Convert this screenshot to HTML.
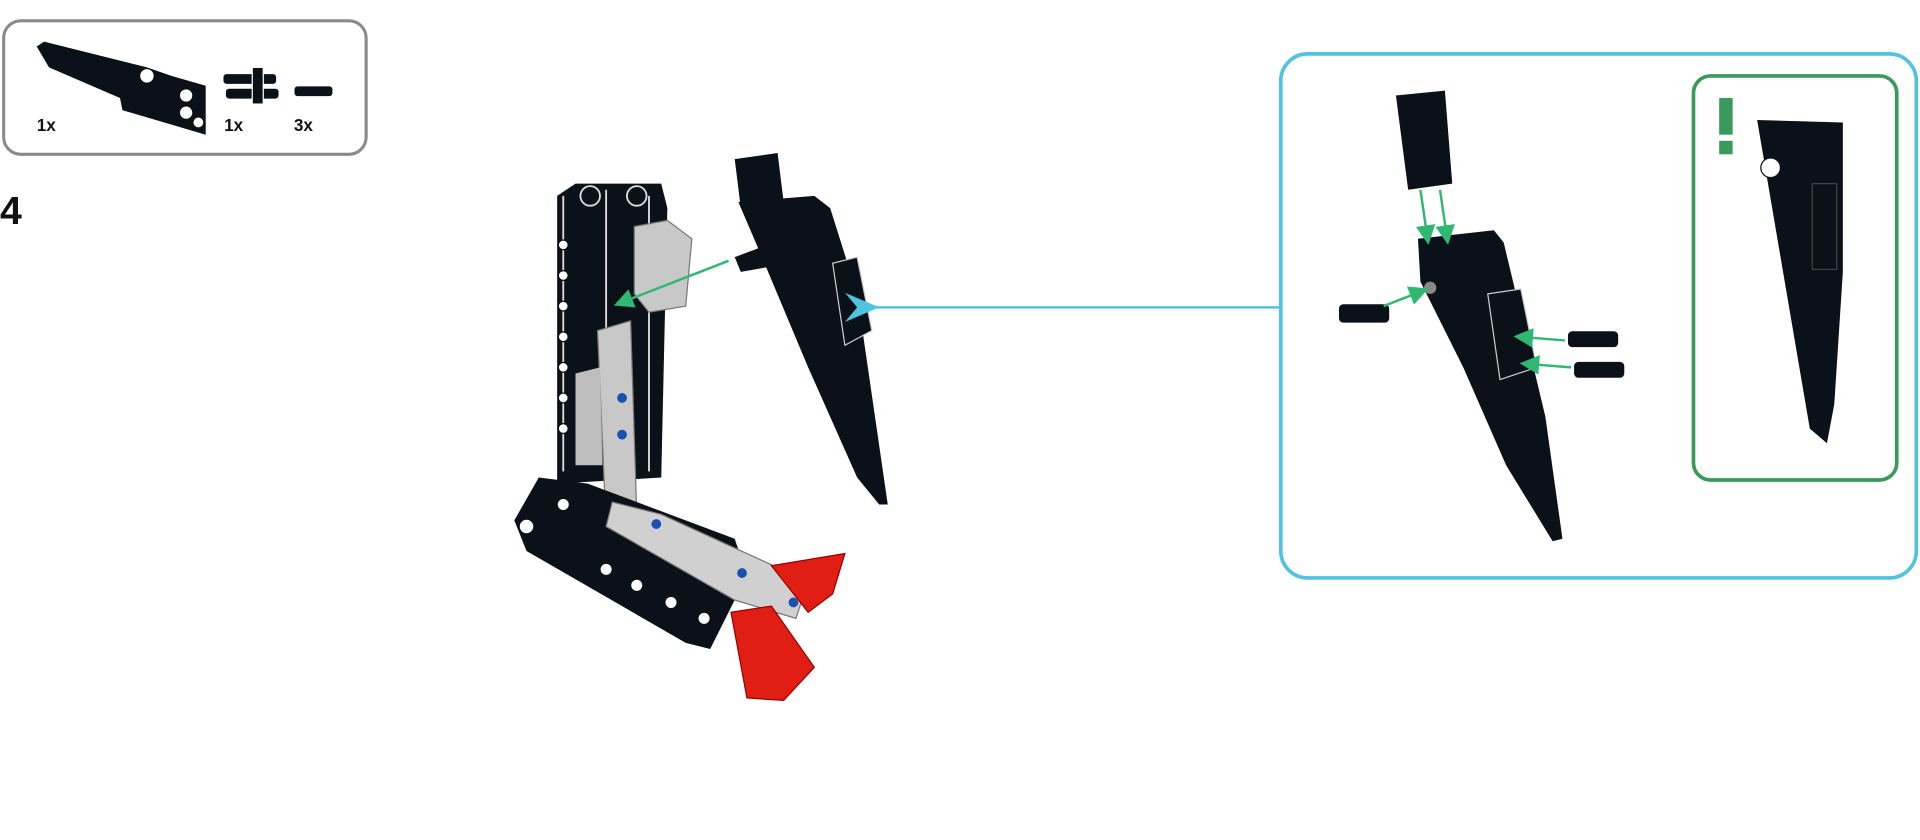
<!DOCTYPE html>
<html><head><meta charset="utf-8"><style>
html,body{margin:0;padding:0;background:#fff;width:1920px;height:840px;overflow:hidden}
svg{display:block}
text{font-family:"Liberation Sans",sans-serif;font-weight:bold}
</style></head><body>
<svg width="1920" height="840" viewBox="0 0 1568 686" preserveAspectRatio="none">
<defs>
<marker id="ag" markerWidth="8" markerHeight="8" refX="6" refY="4" orient="auto"><path d="M0,0 L8,4 L0,8 Z" fill="#2fb872"/></marker>
<marker id="ab" markerWidth="14" markerHeight="12" refX="2" refY="6" orient="auto"><path d="M14,0 L0,6 L14,12 L9,6 Z" fill="#4fc3df"/></marker>
</defs>
<!-- parts box -->
<rect x="3" y="17" width="296" height="109" rx="14" fill="#fff" stroke="#8a8a8a" stroke-width="2.5"/>
<path d="M30,38 L36,34 L120,55 L140,62 L168,70 L168,110 L100,90 L98,80 L40,55 Z" fill="#0b1118"/>
<circle cx="152" cy="78" r="5" fill="#fff"/><circle cx="152" cy="92" r="5" fill="#fff"/><circle cx="162" cy="100" r="4" fill="#fff"/>
<circle cx="120" cy="62" r="6" fill="#fff" stroke="#0b1118"/>
<g fill="#0b1118" stroke="#fff" stroke-width="1">
<rect x="182" y="60" width="44" height="9" rx="3"/><rect x="184" y="72" width="44" height="9" rx="3"/><rect x="206" y="55" width="9" height="30"/>
<rect x="240" y="70" width="32" height="9" rx="3"/></g>
<text x="30" y="107" font-size="14" fill="#111">1x</text>
<text x="183" y="107" font-size="14" fill="#111">1x</text>
<text x="240" y="107" font-size="14" fill="#111">3x</text>
<text x="0" y="183" font-size="32" fill="#111">4</text>

<!-- main assembly -->
<path d="M455,160 L470,150 L540,150 L545,170 L540,390 L455,395 Z" fill="#0b1118"/>
<g fill="none" stroke="#ddd" stroke-width="1.5">
<path d="M460,160 L460,385 M530,160 L530,385 M495,155 L495,390"/>
<circle cx="482" cy="160" r="8"/><circle cx="520" cy="160" r="8"/>
</g>
<g fill="#fff" stroke="#0b1118"><circle cx="460" cy="200" r="4"/><circle cx="460" cy="225" r="4"/><circle cx="460" cy="250" r="4"/><circle cx="460" cy="275" r="4"/><circle cx="460" cy="300" r="4"/><circle cx="460" cy="325" r="4"/><circle cx="460" cy="350" r="4"/></g>
<path d="M518,185 L545,180 L565,195 L560,250 L530,255 L518,240 Z" fill="#c8c8c8" stroke="#777"/>
<path d="M488,270 L515,262 L520,420 L495,430 Z" fill="#c8c8c8" stroke="#777"/>
<path d="M470,305 L490,300 L492,380 L470,380 Z" fill="#bdbdbd"/>
<path d="M420,425 L440,390 L480,395 L600,440 L610,470 L580,530 L560,525 L430,450 Z" fill="#0b1118"/>
<g fill="#fff" stroke="#0b1118"><circle cx="430" cy="430" r="6"/><circle cx="460" cy="412" r="5"/><circle cx="495" cy="465" r="5"/><circle cx="520" cy="478" r="5"/><circle cx="548" cy="492" r="5"/><circle cx="575" cy="505" r="5"/></g>
<path d="M500,410 L540,420 L660,475 L650,505 L600,490 L495,430 Z" fill="#d0d0d0" stroke="#777"/>
<g fill="#1b4fb0"><circle cx="508" cy="325" r="4"/><circle cx="508" cy="355" r="4"/><circle cx="536" cy="428" r="4"/><circle cx="606" cy="468" r="4"/><circle cx="648" cy="492" r="4"/></g>
<path d="M630,462 L690,452 L680,485 L660,500 Z" fill="#e01e14" stroke="#900"/>
<path d="M597,500 L630,495 L665,545 L640,572 L610,570 Z" fill="#e01e14" stroke="#900"/>
<line x1="595" y1="213" x2="505" y2="248" stroke="#2fb872" stroke-width="2" marker-end="url(#ag)"/>
<!-- detached part -->
<path d="M603,165 L665,160 L678,170 L700,240 L725,412 L718,412 L700,390 L660,300 L618,200 Z" fill="#0b1118"/>
<path d="M600,130 L635,125 L640,165 L605,170 Z" fill="#0b1118"/>
<path d="M600,210 L640,195 L645,215 L605,222 Z" fill="#0b1118"/>
<path d="M680,215 L700,210 L712,270 L690,282 Z" fill="#0b1118" stroke="#ccc"/>

<!-- callout -->
<line x1="1046" y1="251" x2="714" y2="251" stroke="#4fc3df" stroke-width="2" marker-end="url(#ab)"/>
<rect x="1046" y="44" width="519" height="428" rx="22" fill="#fff" stroke="#4fc3df" stroke-width="3"/>
<path d="M1158,195 L1220,188 L1228,198 L1262,340 L1276,440 L1268,442 L1230,380 L1195,300 L1160,230 Z" fill="#0b1118"/>
<path d="M1140,78 L1180,74 L1186,150 L1150,155 Z" fill="#0b1118"/>
<path d="M1215,240 L1242,236 L1255,300 L1225,310 Z" fill="#0b1118" stroke="#ccc"/>
<circle cx="1168" cy="235" r="5" fill="#888"/>
<g fill="#0b1118" stroke="#fff"><rect x="1093" y="248" width="42" height="16" rx="4"/><rect x="1280" y="270" width="42" height="14" rx="4"/><rect x="1285" y="295" width="42" height="14" rx="4"/></g>
<g stroke="#2fb872" stroke-width="2" marker-end="url(#ag)">
<line x1="1160" y1="155" x2="1166" y2="196"/><line x1="1176" y1="155" x2="1182" y2="196"/>
<line x1="1130" y1="250" x2="1163" y2="237"/>
<line x1="1278" y1="278" x2="1240" y2="275"/><line x1="1283" y1="300" x2="1245" y2="297"/></g>
<!-- green box -->
<rect x="1383" y="62" width="166" height="330" rx="14" fill="#fff" stroke="#3a9a5e" stroke-width="3"/>
<rect x="1404" y="80" width="11" height="30" fill="#3a9a5e"/><rect x="1404" y="115" width="11" height="11" fill="#3a9a5e"/>
<path d="M1435,98 L1505,100 L1505,222 L1498,330 L1492,362 L1478,350 Z" fill="#0b1118"/>
<circle cx="1446" cy="137" r="8" fill="#fff" stroke="#0b1118"/>
<rect x="1480" y="150" width="20" height="70" fill="none" stroke="#444"/>
</svg>
</body></html>
